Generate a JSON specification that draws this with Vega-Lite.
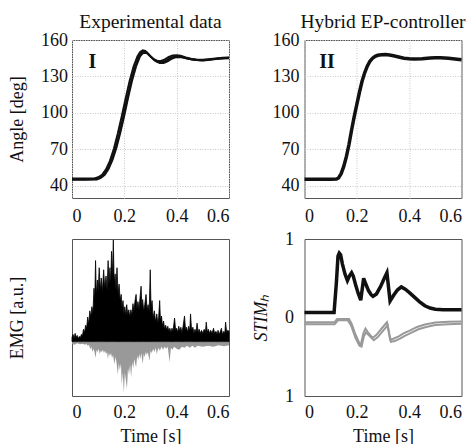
{
  "$schema": "https://vega.github.io/schema/vega-lite/v6.json",
  "padding": {"left": 7, "top": 11, "right": 0, "bottom": 0},
  "columns": 2,
  "spacing": {"column": 75.5, "row": 41},
  "bounds": "flush",
  "config": {
    "view": {"stroke": "#555", "strokeWidth": 1},
    "font": "Liberation Serif",
    "axis": {"labelFont": "Liberation Serif", "labelFontSize": 18, "titleFont": "Liberation Serif", "titleFontSize": 18, "titleFontWeight": "normal", "labelColor": "#111", "titleColor": "#111", "domain": false, "ticks": false, "gridColor": "#c8c8c8", "gridDash": [1, 1.5], "gridWidth": 1, "labelOverlap": false, "labelBound": false},
    "title": {"font": "Liberation Serif", "fontSize": 19.5, "fontWeight": "normal", "color": "#111", "offset": -1.7}
  },
  "datasets": {
    "angleExp": [
      {"t":0,"a":45.5,"trial":"A"},{"t":0.05,"a":45.5,"trial":"A"},{"t":0.09,"a":45.6,"trial":"A"},{"t":0.105,"a":46.5,"trial":"A"},{"t":0.12,"a":48.5,"trial":"A"},{"t":0.135,"a":53,"trial":"A"},{"t":0.15,"a":60,"trial":"A"},{"t":0.165,"a":70,"trial":"A"},{"t":0.18,"a":82,"trial":"A"},{"t":0.195,"a":96,"trial":"A"},{"t":0.21,"a":111,"trial":"A"},{"t":0.225,"a":125,"trial":"A"},{"t":0.24,"a":137,"trial":"A"},{"t":0.255,"a":146,"trial":"A"},{"t":0.265,"a":149.5,"trial":"A"},{"t":0.275,"a":150.5,"trial":"A"},{"t":0.285,"a":150,"trial":"A"},{"t":0.3,"a":146.5,"trial":"A"},{"t":0.315,"a":143.5,"trial":"A"},{"t":0.33,"a":142,"trial":"A"},{"t":0.345,"a":141.8,"trial":"A"},{"t":0.36,"a":143,"trial":"A"},{"t":0.375,"a":145,"trial":"A"},{"t":0.39,"a":146.3,"trial":"A"},{"t":0.405,"a":146.5,"trial":"A"},{"t":0.42,"a":146,"trial":"A"},{"t":0.44,"a":144.8,"trial":"A"},{"t":0.46,"a":144,"trial":"A"},{"t":0.48,"a":143.5,"trial":"A"},{"t":0.5,"a":143.4,"trial":"A"},{"t":0.52,"a":143.8,"trial":"A"},{"t":0.55,"a":144.5,"trial":"A"},{"t":0.575,"a":145,"trial":"A"},{"t":0.6,"a":145.3,"trial":"A"},
      {"t":0,"a":45,"trial":"B"},{"t":0.05,"a":45,"trial":"B"},{"t":0.095,"a":45.3,"trial":"B"},{"t":0.11,"a":46.5,"trial":"B"},{"t":0.125,"a":49,"trial":"B"},{"t":0.14,"a":54,"trial":"B"},{"t":0.155,"a":61.5,"trial":"B"},{"t":0.17,"a":71.5,"trial":"B"},{"t":0.185,"a":84,"trial":"B"},{"t":0.2,"a":98,"trial":"B"},{"t":0.215,"a":113,"trial":"B"},{"t":0.23,"a":127,"trial":"B"},{"t":0.245,"a":138.5,"trial":"B"},{"t":0.26,"a":146.5,"trial":"B"},{"t":0.27,"a":149,"trial":"B"},{"t":0.28,"a":149.5,"trial":"B"},{"t":0.29,"a":148.8,"trial":"B"},{"t":0.305,"a":145.5,"trial":"B"},{"t":0.32,"a":142.5,"trial":"B"},{"t":0.335,"a":141,"trial":"B"},{"t":0.35,"a":141,"trial":"B"},{"t":0.365,"a":142.5,"trial":"B"},{"t":0.38,"a":144.5,"trial":"B"},{"t":0.395,"a":145.8,"trial":"B"},{"t":0.41,"a":146,"trial":"B"},{"t":0.425,"a":145.5,"trial":"B"},{"t":0.445,"a":144.5,"trial":"B"},{"t":0.465,"a":143.8,"trial":"B"},{"t":0.485,"a":143.3,"trial":"B"},{"t":0.5,"a":143.2,"trial":"B"},{"t":0.52,"a":143.6,"trial":"B"},{"t":0.55,"a":144.3,"trial":"B"},{"t":0.575,"a":144.8,"trial":"B"},{"t":0.6,"a":145,"trial":"B"},
      {"t":0,"a":46,"trial":"C"},{"t":0.05,"a":46,"trial":"C"},{"t":0.085,"a":46.1,"trial":"C"},{"t":0.1,"a":47,"trial":"C"},{"t":0.115,"a":49,"trial":"C"},{"t":0.13,"a":53.5,"trial":"C"},{"t":0.145,"a":60.5,"trial":"C"},{"t":0.16,"a":70.5,"trial":"C"},{"t":0.175,"a":83,"trial":"C"},{"t":0.19,"a":97,"trial":"C"},{"t":0.205,"a":112,"trial":"C"},{"t":0.22,"a":126,"trial":"C"},{"t":0.235,"a":138,"trial":"C"},{"t":0.25,"a":146.5,"trial":"C"},{"t":0.26,"a":150,"trial":"C"},{"t":0.27,"a":151.5,"trial":"C"},{"t":0.28,"a":151,"trial":"C"},{"t":0.295,"a":147.5,"trial":"C"},{"t":0.31,"a":144.5,"trial":"C"},{"t":0.325,"a":143,"trial":"C"},{"t":0.34,"a":142.8,"trial":"C"},{"t":0.355,"a":144,"trial":"C"},{"t":0.37,"a":146,"trial":"C"},{"t":0.385,"a":147.3,"trial":"C"},{"t":0.4,"a":147.5,"trial":"C"},{"t":0.415,"a":147,"trial":"C"},{"t":0.435,"a":145.6,"trial":"C"},{"t":0.455,"a":144.6,"trial":"C"},{"t":0.475,"a":144,"trial":"C"},{"t":0.5,"a":143.8,"trial":"C"},{"t":0.52,"a":144.2,"trial":"C"},{"t":0.55,"a":144.8,"trial":"C"},{"t":0.575,"a":145.3,"trial":"C"},{"t":0.6,"a":145.6,"trial":"C"}
    ],
    "angleHyb": [
      {"t":0,"a":45.5},{"t":0.05,"a":45.5},{"t":0.1,"a":45.5},{"t":0.122,"a":45.6},{"t":0.13,"a":46.5},{"t":0.14,"a":50},{"t":0.15,"a":56},{"t":0.16,"a":64},{"t":0.17,"a":74},{"t":0.18,"a":86},{"t":0.19,"a":97},{"t":0.2,"a":107},{"t":0.21,"a":117},{"t":0.22,"a":126},{"t":0.23,"a":133},{"t":0.24,"a":138.5},{"t":0.25,"a":142.5},{"t":0.26,"a":145},{"t":0.27,"a":146.5},{"t":0.28,"a":147.4},{"t":0.295,"a":147.9},{"t":0.31,"a":148},{"t":0.325,"a":147.7},{"t":0.34,"a":147},{"t":0.36,"a":146},{"t":0.38,"a":145},{"t":0.4,"a":144.5},{"t":0.42,"a":144.3},{"t":0.45,"a":144.5},{"t":0.48,"a":145.2},{"t":0.5,"a":145.4},{"t":0.52,"a":145.4},{"t":0.55,"a":145},{"t":0.575,"a":144.3},{"t":0.6,"a":143.7}
    ],
    "emgUp": [
      {"t":0,"v":0.04},{"t":0.004,"v":0.07},{"t":0.008,"v":0.03},{"t":0.012,"v":0.08},{"t":0.016,"v":0.04},{"t":0.02,"v":0.06},{"t":0.024,"v":0.03},{"t":0.028,"v":0.05},{"t":0.032,"v":0.04},{"t":0.036,"v":0.07},{"t":0.04,"v":0.06},{"t":0.044,"v":0.12},{"t":0.048,"v":0.09},{"t":0.052,"v":0.16},{"t":0.056,"v":0.13},{"t":0.06,"v":0.24},{"t":0.064,"v":0.17},{"t":0.068,"v":0.3},{"t":0.072,"v":0.24},{"t":0.076,"v":0.34},{"t":0.08,"v":0.28},{"t":0.084,"v":0.52},{"t":0.087,"v":0.4},{"t":0.09,"v":0.79},{"t":0.093,"v":0.45},{"t":0.097,"v":0.6},{"t":0.1,"v":0.48},{"t":0.104,"v":0.72},{"t":0.108,"v":0.5},{"t":0.112,"v":0.62},{"t":0.116,"v":0.48},{"t":0.121,"v":0.7},{"t":0.125,"v":0.52},{"t":0.13,"v":0.64},{"t":0.134,"v":0.5},{"t":0.138,"v":0.79},{"t":0.141,"v":0.56},{"t":0.145,"v":0.72},{"t":0.148,"v":0.55},{"t":0.151,"v":0.88},{"t":0.154,"v":0.62},{"t":0.158,"v":0.99},{"t":0.161,"v":0.58},{"t":0.165,"v":0.66},{"t":0.168,"v":0.5},{"t":0.172,"v":0.72},{"t":0.176,"v":0.46},{"t":0.18,"v":0.56},{"t":0.184,"v":0.4},{"t":0.188,"v":0.46},{"t":0.191,"v":0.33},{"t":0.195,"v":0.4},{"t":0.198,"v":0.27},{"t":0.202,"v":0.34},{"t":0.206,"v":0.25},{"t":0.209,"v":0.36},{"t":0.213,"v":0.26},{"t":0.217,"v":0.31},{"t":0.221,"v":0.24},{"t":0.225,"v":0.31},{"t":0.229,"v":0.26},{"t":0.233,"v":0.37},{"t":0.237,"v":0.3},{"t":0.241,"v":0.4},{"t":0.245,"v":0.46},{"t":0.248,"v":0.32},{"t":0.252,"v":0.39},{"t":0.256,"v":0.31},{"t":0.26,"v":0.43},{"t":0.264,"v":0.54},{"t":0.267,"v":0.34},{"t":0.27,"v":0.41},{"t":0.274,"v":0.3},{"t":0.278,"v":0.36},{"t":0.283,"v":0.46},{"t":0.287,"v":0.31},{"t":0.291,"v":0.36},{"t":0.295,"v":0.29},{"t":0.299,"v":0.7},{"t":0.302,"v":0.33},{"t":0.306,"v":0.4},{"t":0.31,"v":0.23},{"t":0.315,"v":0.3},{"t":0.319,"v":0.19},{"t":0.324,"v":0.27},{"t":0.328,"v":0.18},{"t":0.331,"v":0.23},{"t":0.335,"v":0.4},{"t":0.338,"v":0.21},{"t":0.342,"v":0.25},{"t":0.346,"v":0.15},{"t":0.35,"v":0.2},{"t":0.354,"v":0.12},{"t":0.358,"v":0.16},{"t":0.362,"v":0.11},{"t":0.366,"v":0.15},{"t":0.37,"v":0.1},{"t":0.374,"v":0.13},{"t":0.378,"v":0.09},{"t":0.382,"v":0.13},{"t":0.386,"v":0.1},{"t":0.392,"v":0.23},{"t":0.396,"v":0.11},{"t":0.4,"v":0.13},{"t":0.404,"v":0.09},{"t":0.408,"v":0.15},{"t":0.412,"v":0.1},{"t":0.416,"v":0.14},{"t":0.42,"v":0.09},{"t":0.424,"v":0.14},{"t":0.43,"v":0.25},{"t":0.434,"v":0.11},{"t":0.438,"v":0.14},{"t":0.442,"v":0.09},{"t":0.446,"v":0.15},{"t":0.45,"v":0.1},{"t":0.453,"v":0.27},{"t":0.457,"v":0.11},{"t":0.462,"v":0.14},{"t":0.466,"v":0.08},{"t":0.47,"v":0.12},{"t":0.474,"v":0.09},{"t":0.478,"v":0.18},{"t":0.482,"v":0.09},{"t":0.486,"v":0.12},{"t":0.49,"v":0.08},{"t":0.495,"v":0.11},{"t":0.5,"v":0.08},{"t":0.505,"v":0.12},{"t":0.51,"v":0.09},{"t":0.513,"v":0.19},{"t":0.517,"v":0.09},{"t":0.521,"v":0.12},{"t":0.526,"v":0.08},{"t":0.53,"v":0.11},{"t":0.535,"v":0.08},{"t":0.541,"v":0.13},{"t":0.545,"v":0.08},{"t":0.55,"v":0.1},{"t":0.555,"v":0.07},{"t":0.558,"v":0.11},{"t":0.563,"v":0.07},{"t":0.567,"v":0.1},{"t":0.571,"v":0.13},{"t":0.575,"v":0.07},{"t":0.58,"v":0.1},{"t":0.584,"v":0.08},{"t":0.587,"v":0.19},{"t":0.591,"v":0.09},{"t":0.595,"v":0.11},{"t":0.6,"v":0.1}
    ],
    "emgDown": [
      {"t":0,"v":-0.02},{"t":0.01,"v":-0.03},{"t":0.02,"v":-0.015},{"t":0.03,"v":-0.025},{"t":0.04,"v":-0.02},{"t":0.05,"v":-0.03},{"t":0.055,"v":-0.02},{"t":0.06,"v":-0.04},{"t":0.065,"v":-0.03},{"t":0.07,"v":-0.075},{"t":0.074,"v":-0.05},{"t":0.078,"v":-0.1},{"t":0.082,"v":-0.07},{"t":0.086,"v":-0.1},{"t":0.09,"v":-0.16},{"t":0.094,"v":-0.08},{"t":0.098,"v":-0.1},{"t":0.102,"v":-0.07},{"t":0.106,"v":-0.12},{"t":0.11,"v":-0.09},{"t":0.114,"v":-0.1},{"t":0.118,"v":-0.08},{"t":0.122,"v":-0.11},{"t":0.126,"v":-0.09},{"t":0.13,"v":-0.12},{"t":0.134,"v":-0.1},{"t":0.137,"v":-0.17},{"t":0.141,"v":-0.11},{"t":0.145,"v":-0.14},{"t":0.149,"v":-0.11},{"t":0.153,"v":-0.16},{"t":0.157,"v":-0.13},{"t":0.162,"v":-0.22},{"t":0.166,"v":-0.15},{"t":0.17,"v":-0.2},{"t":0.175,"v":-0.32},{"t":0.179,"v":-0.21},{"t":0.183,"v":-0.28},{"t":0.187,"v":-0.21},{"t":0.19,"v":-0.42},{"t":0.194,"v":-0.3},{"t":0.198,"v":-0.5},{"t":0.202,"v":-0.3},{"t":0.206,"v":-0.38},{"t":0.21,"v":-0.46},{"t":0.214,"v":-0.26},{"t":0.218,"v":-0.32},{"t":0.222,"v":-0.22},{"t":0.226,"v":-0.35},{"t":0.23,"v":-0.2},{"t":0.234,"v":-0.26},{"t":0.238,"v":-0.17},{"t":0.242,"v":-0.22},{"t":0.245,"v":-0.25},{"t":0.249,"v":-0.14},{"t":0.253,"v":-0.18},{"t":0.257,"v":-0.12},{"t":0.261,"v":-0.17},{"t":0.265,"v":-0.11},{"t":0.27,"v":-0.22},{"t":0.274,"v":-0.12},{"t":0.278,"v":-0.15},{"t":0.282,"v":-0.1},{"t":0.286,"v":-0.13},{"t":0.29,"v":-0.1},{"t":0.296,"v":-0.19},{"t":0.3,"v":-0.09},{"t":0.305,"v":-0.11},{"t":0.31,"v":-0.07},{"t":0.315,"v":-0.1},{"t":0.32,"v":-0.06},{"t":0.324,"v":-0.12},{"t":0.33,"v":-0.06},{"t":0.336,"v":-0.09},{"t":0.342,"v":-0.05},{"t":0.348,"v":-0.08},{"t":0.354,"v":-0.05},{"t":0.36,"v":-0.07},{"t":0.366,"v":-0.05},{"t":0.373,"v":-0.2},{"t":0.378,"v":-0.06},{"t":0.384,"v":-0.08},{"t":0.39,"v":-0.05},{"t":0.4,"v":-0.07},{"t":0.41,"v":-0.08},{"t":0.42,"v":-0.05},{"t":0.43,"v":-0.06},{"t":0.44,"v":-0.04},{"t":0.45,"v":-0.06},{"t":0.46,"v":-0.04},{"t":0.47,"v":-0.06},{"t":0.48,"v":-0.04},{"t":0.5,"v":-0.05},{"t":0.52,"v":-0.04},{"t":0.54,"v":-0.05},{"t":0.56,"v":-0.035},{"t":0.58,"v":-0.045},{"t":0.6,"v":-0.035}
    ],
    "stimExt": [
      {"t":0,"v":0.063},{"t":0.05,"v":0.063},{"t":0.1,"v":0.063},{"t":0.113,"v":0.063},{"t":0.122,"v":0.45},{"t":0.128,"v":0.78},{"t":0.133,"v":0.82},{"t":0.138,"v":0.8},{"t":0.145,"v":0.68},{"t":0.155,"v":0.55},{"t":0.164,"v":0.47},{"t":0.172,"v":0.53},{"t":0.18,"v":0.57},{"t":0.186,"v":0.53},{"t":0.195,"v":0.42},{"t":0.205,"v":0.31},{"t":0.215,"v":0.22},{"t":0.226,"v":0.5},{"t":0.235,"v":0.42},{"t":0.245,"v":0.34},{"t":0.255,"v":0.29},{"t":0.262,"v":0.27},{"t":0.275,"v":0.3},{"t":0.29,"v":0.39},{"t":0.305,"v":0.5},{"t":0.315,"v":0.57},{"t":0.327,"v":0.21},{"t":0.34,"v":0.28},{"t":0.355,"v":0.35},{"t":0.37,"v":0.39},{"t":0.385,"v":0.36},{"t":0.4,"v":0.32},{"t":0.42,"v":0.26},{"t":0.44,"v":0.2},{"t":0.46,"v":0.15},{"t":0.48,"v":0.12},{"t":0.5,"v":0.105},{"t":0.53,"v":0.1},{"t":0.6,"v":0.1}
    ],
    "stimFlex": [
      {"t":0,"v":-0.06,"s":"a"},{"t":0.115,"v":-0.06,"s":"a"},{"t":0.125,"v":-0.02,"s":"a"},{"t":0.17,"v":-0.02,"s":"a"},{"t":0.18,"v":-0.08,"s":"a"},{"t":0.195,"v":-0.22,"s":"a"},{"t":0.21,"v":-0.33,"s":"a"},{"t":0.215,"v":-0.35,"s":"a"},{"t":0.225,"v":-0.2,"s":"a"},{"t":0.233,"v":-0.14,"s":"a"},{"t":0.245,"v":-0.2,"s":"a"},{"t":0.26,"v":-0.26,"s":"a"},{"t":0.275,"v":-0.22,"s":"a"},{"t":0.295,"v":-0.14,"s":"a"},{"t":0.315,"v":-0.06,"s":"a"},{"t":0.327,"v":-0.28,"s":"a"},{"t":0.34,"v":-0.27,"s":"a"},{"t":0.36,"v":-0.24,"s":"a"},{"t":0.38,"v":-0.2,"s":"a"},{"t":0.4,"v":-0.17,"s":"a"},{"t":0.43,"v":-0.12,"s":"a"},{"t":0.46,"v":-0.09,"s":"a"},{"t":0.5,"v":-0.065,"s":"a"},{"t":0.55,"v":-0.055,"s":"a"},{"t":0.6,"v":-0.05,"s":"a"},
      {"t":0,"v":-0.085,"s":"b"},{"t":0.115,"v":-0.085,"s":"b"},{"t":0.128,"v":-0.035,"s":"b"},{"t":0.165,"v":-0.035,"s":"b"},{"t":0.178,"v":-0.1,"s":"b"},{"t":0.195,"v":-0.26,"s":"b"},{"t":0.21,"v":-0.36,"s":"b"},{"t":0.218,"v":-0.37,"s":"b"},{"t":0.227,"v":-0.24,"s":"b"},{"t":0.235,"v":-0.19,"s":"b"},{"t":0.25,"v":-0.24,"s":"b"},{"t":0.265,"v":-0.29,"s":"b"},{"t":0.28,"v":-0.25,"s":"b"},{"t":0.3,"v":-0.17,"s":"b"},{"t":0.318,"v":-0.1,"s":"b"},{"t":0.33,"v":-0.31,"s":"b"},{"t":0.345,"v":-0.3,"s":"b"},{"t":0.365,"v":-0.27,"s":"b"},{"t":0.385,"v":-0.23,"s":"b"},{"t":0.405,"v":-0.2,"s":"b"},{"t":0.435,"v":-0.15,"s":"b"},{"t":0.465,"v":-0.12,"s":"b"},{"t":0.5,"v":-0.095,"s":"b"},{"t":0.55,"v":-0.085,"s":"b"},{"t":0.6,"v":-0.08,"s":"b"}
    ]
  },
  "concat": [
    {
      "title": "Experimental data",
      "width": 157, "height": 158,
      "encoding": {
        "x": {"field": "t", "type": "quantitative", "scale": {"domain": [0, 0.6], "nice": false}, "axis": {"values": [0, 0.2, 0.4, 0.6], "format": "~g", "title": null, "labelPadding": 9, "grid": true, "labelOverlap": false}},
        "y": {"field": "a", "type": "quantitative", "scale": {"domain": [30, 160], "nice": false, "zero": false}, "axis": {"values": [40, 70, 100, 130, 160], "title": "Angle [deg]", "labelPadding": 4.5, "titlePadding": 14, "grid": true, "labelOverlap": false}}
      },
      "layer": [
        {
          "data": {"name": "angleExp"},
          "mark": {"type": "line", "color": "#111", "strokeWidth": 2},
          "encoding": {"detail": {"field": "trial"}}
        },
        {
          "data": {"values": [{"t": 0.078, "a": 141.5, "label": "I"}]},
          "mark": {"type": "text", "fontWeight": "bold", "fontSize": 20, "font": "Liberation Serif", "color": "#111"},
          "encoding": {"text": {"field": "label"}}
        }
      ]
    },
    {
      "title": "Hybrid EP-controller",
      "width": 157, "height": 158,
      "encoding": {
        "x": {"field": "t", "type": "quantitative", "scale": {"domain": [0, 0.6], "nice": false}, "axis": {"values": [0, 0.2, 0.4, 0.6], "format": "~g", "title": null, "labelPadding": 9, "grid": true, "labelOverlap": false}},
        "y": {"field": "a", "type": "quantitative", "scale": {"domain": [30, 160], "nice": false, "zero": false}, "axis": {"values": [40, 70, 100, 130, 160], "title": null, "labelPadding": 5.5, "grid": true, "labelOverlap": false}}
      },
      "layer": [
        {
          "data": {"name": "angleHyb"},
          "mark": {"type": "line", "color": "#111", "strokeWidth": 3.5}
        },
        {
          "data": {"values": [{"t": 0.086, "a": 141.5, "label": "II"}]},
          "mark": {"type": "text", "fontWeight": "bold", "fontSize": 20, "font": "Liberation Serif", "color": "#111"},
          "encoding": {"text": {"field": "label"}}
        }
      ]
    },
    {
      "width": 157, "height": 157,
      "encoding": {
        "x": {"field": "t", "type": "quantitative", "scale": {"domain": [0, 0.6], "nice": false}, "axis": {"values": [0, 0.2, 0.4, 0.6], "format": "~g", "title": "Time [s]", "labelPadding": 7, "titlePadding": 6, "grid": false, "labelOverlap": false}},
        "y": {"field": "v", "type": "quantitative", "scale": {"domain": [-0.53, 1], "nice": false, "zero": false}, "axis": {"labels": false, "title": "EMG [a.u.]", "titlePadding": 46, "grid": false}},
        "y2": {"datum": 0}
      },
      "layer": [
        {
          "data": {"name": "emgDown"},
          "mark": {"type": "area", "color": "#999", "opacity": 1}
        },
        {
          "data": {"name": "emgUp"},
          "mark": {"type": "area", "color": "#000", "opacity": 1, "stroke": "#000", "strokeWidth": 0.8}
        }
      ]
    },
    {
      "width": 157, "height": 157,
      "layer": [
        {
          "mark": {"type": "rule", "color": "#bbb", "strokeWidth": 1},
          "encoding": {"y": {"datum": 0, "type": "quantitative", "scale": {"domain": [-1, 1], "nice": false, "zero": false}, "axis": {"values": [-1, 0, 1], "labelExpr": "abs(datum.value)", "title": "STIMₕ", "titleFontStyle": "italic", "labelPadding": 11, "titlePadding": 14, "grid": false, "labelOverlap": false}}}
        },
        {
          "data": {"name": "stimFlex"},
          "mark": {"type": "line", "color": "#999", "strokeWidth": 2},
          "encoding": {
            "x": {"field": "t", "type": "quantitative", "scale": {"domain": [0, 0.6], "nice": false}, "axis": {"values": [0, 0.2, 0.4, 0.6], "format": "~g", "title": "Time [s]", "labelPadding": 7, "titlePadding": 6, "grid": false, "labelOverlap": false}},
            "y": {"field": "v", "type": "quantitative"},
            "detail": {"field": "s"}
          }
        },
        {
          "data": {"name": "stimExt"},
          "mark": {"type": "line", "color": "#111", "strokeWidth": 3.5},
          "encoding": {
            "x": {"field": "t", "type": "quantitative"},
            "y": {"field": "v", "type": "quantitative"}
          }
        }
      ]
    }
  ]
}
